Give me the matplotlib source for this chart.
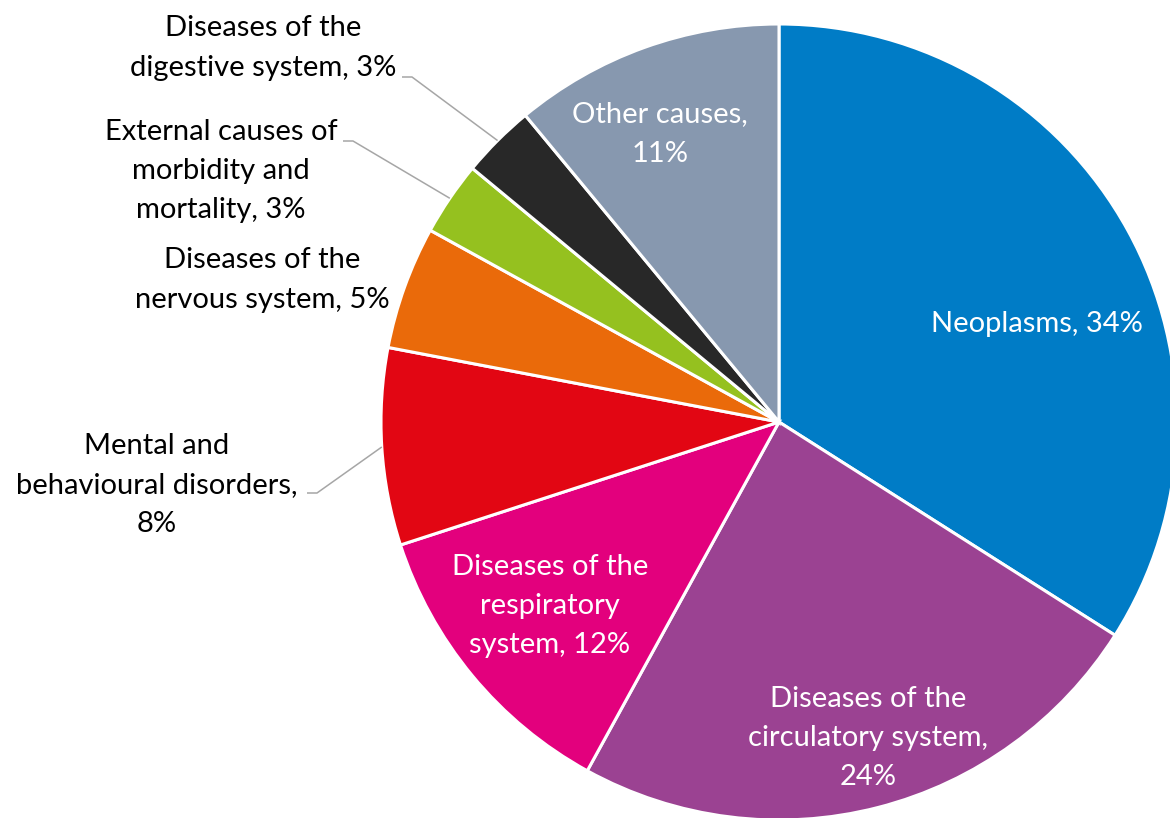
import numpy as np
import matplotlib

matplotlib.use("Agg")
from matplotlib import pyplot as plt

W, H = 1170, 818

causes = [
    "Neoplasms",
    "Diseases of the circulatory system",
    "Diseases of the respiratory system",
    "Mental and behavioural disorders",
    "Diseases of the nervous system",
    "External causes of morbidity and mortality",
    "Diseases of the digestive system",
    "Other causes",
]
shares = [34, 24, 12, 8, 5, 3, 3, 11]
colors = ["#007CC6", "#9B4292", "#E3007D", "#E20613", "#EA6A0A",
          "#95C11F", "#282828", "#8798AF"]

label_text = [
    "Neoplasms, 34%",
    "Diseases of the\ncirculatory system,\n24%",
    "Diseases of the\nrespiratory\nsystem, 12%",
    "Mental and\nbehavioural disorders,\n8%",
    "Diseases of the\nnervous system, 5%",
    "External causes of\nmorbidity and\nmortality, 3%",
    "Diseases of the\ndigestive system, 3%",
    "Other causes,\n11%",
]
# label centres in pixel coordinates (y measured from the top)
label_pos = [(1037, 324), (868, 738), (550, 606), (157, 485),
             (262, 280), (221, 171), (263, 48), (660, 134)]
label_color = ["white", "white", "white", "black",
               "black", "black", "black", "white"]
# outside labels get a leader line: (index, start of the line)
leaders = [(3, (307, 493)), (5, (343, 141)), (6, (402, 77))]

CENTER = (779, 422)
RADIUS = 398

plt.rcParams["font.family"] = ["Lato", "DejaVu Sans"]

fig = plt.figure(figsize=(W / 100, H / 100), dpi=100)
ax = fig.add_axes([0, 0, 1, 1])

ax.pie(shares, colors=colors, startangle=90, counterclock=False,
       center=(CENTER[0], H - CENTER[1]), radius=RADIUS,
       wedgeprops={"edgecolor": "white", "linewidth": 2.2})

for text, (x, y), c in zip(label_text, label_pos, label_color):
    ax.text(x, H - y, text, ha="center", va="center", color=c,
            fontsize=21, linespacing=1.62)

# leader lines end on the arc at each wedge's mid angle
cum = np.cumsum([0] + shares)
for i, (x0, y0) in leaders:
    mid = (cum[i] + cum[i + 1]) / 2 / sum(shares)
    ang = np.deg2rad(90 - 360 * mid)
    ex = CENTER[0] + RADIUS * np.cos(ang)
    ey = H - CENTER[1] + RADIUS * np.sin(ang)
    ax.plot([x0, x0 + 10, ex], [H - y0, H - y0, ey],
            color="#A6A6A6", linewidth=1.1, solid_capstyle="butt")

ax.set_xlim(0, W)
ax.set_ylim(0, H)
ax.set_aspect("equal")
ax.axis("off")

fig.savefig("out.png", dpi=100)
